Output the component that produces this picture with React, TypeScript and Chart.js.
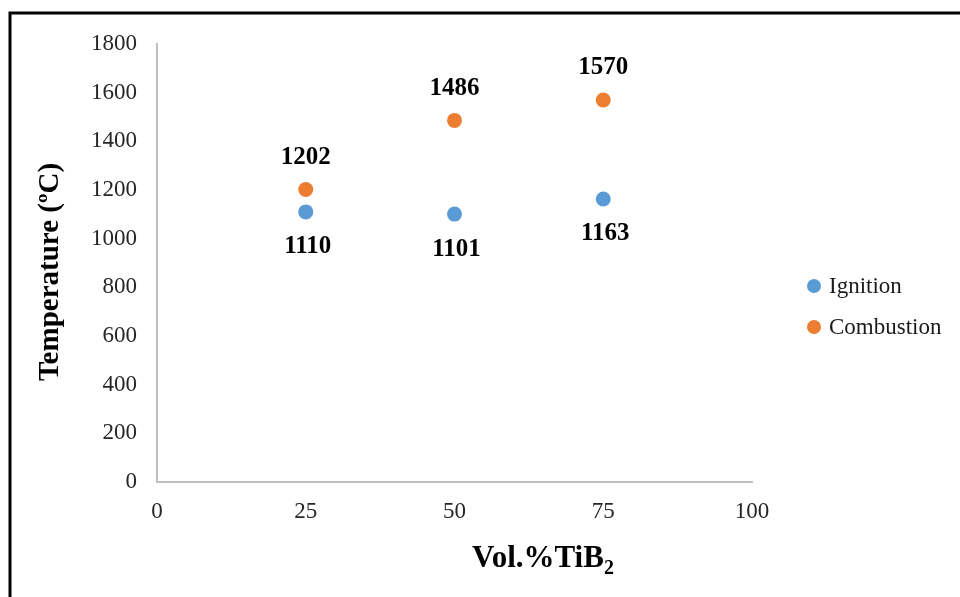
import { useEffect, useRef } from 'react';
import { Chart, registerables } from 'chart.js';

Chart.register(...registerables);

const xValues = [25, 50, 75];
const ignitionValues = [1110, 1101, 1163];
const combustionValues = [1202, 1486, 1570];
const seriesNames = ['Ignition', 'Combustion'];
const seriesColors = ['#5B9BD5', '#ED7D31'];
const xTickValues = [0, 25, 50, 75, 100];
const yTickStep = 200;
const yMax = 1800;
const xTitleMain = 'Vol.%TiB';
const xTitleSub = '2';
const yTitle = 'Temperature (ºC)';

const SERIF = "'Liberation Serif', 'Times New Roman', serif";

const framePlugin = {
  id: 'frame',
  beforeDraw(chart: any) {
    const ctx = chart.ctx;
    ctx.save();
    ctx.fillStyle = '#ffffff';
    ctx.fillRect(0, 0, chart.width, chart.height);
    ctx.strokeStyle = '#000000';
    ctx.lineWidth = 3;
    ctx.beginPath();
    ctx.moveTo(10, chart.height + 5);
    ctx.lineTo(10, 13);
    ctx.lineTo(chart.width + 5, 13);
    ctx.stroke();
    ctx.restore();
  },
};

const labelsPlugin = {
  id: 'pointLabels',
  afterDatasetsDraw(chart: any) {
    const ctx = chart.ctx;
    ctx.save();
    ctx.font = `bold 25px ${SERIF}`;
    ctx.fillStyle = '#000000';
    ctx.textAlign = 'center';
    ctx.textBaseline = 'middle';
    chart.data.datasets.forEach((ds: any, i: number) => {
      const meta = chart.getDatasetMeta(i);
      meta.data.forEach((pt: any, j: number) => {
        const v = ds.data[j].y;
        const dy = i === 0 ? 35 : -32;
        ctx.fillText(String(v), pt.x + (i === 0 ? 2 : 0), pt.y + dy);
      });
    });
    ctx.restore();
  },
};

const titlesPlugin = {
  id: 'axisTitles',
  afterDraw(chart: any) {
    const ctx = chart.ctx;
    ctx.save();
    ctx.fillStyle = '#000000';
    ctx.font = `bold 29px ${SERIF}`;
    ctx.textAlign = 'center';
    ctx.textBaseline = 'middle';
    ctx.translate(51, 272);
    ctx.rotate(-Math.PI / 2);
    ctx.fillText(yTitle, 0, 0);
    ctx.restore();

    ctx.save();
    ctx.fillStyle = '#000000';
    ctx.textBaseline = 'alphabetic';
    ctx.textAlign = 'left';
    ctx.font = `bold 31px ${SERIF}`;
    const w1 = ctx.measureText(xTitleMain).width;
    ctx.font = `bold 20px ${SERIF}`;
    const w2 = ctx.measureText(xTitleSub).width;
    const startX = 543 - (w1 + w2) / 2;
    const base = 567;
    ctx.font = `bold 31px ${SERIF}`;
    ctx.fillText(xTitleMain, startX, base);
    ctx.font = `bold 20px ${SERIF}`;
    ctx.fillText(xTitleSub, startX + w1, base + 7);
    ctx.restore();

    ctx.save();
    ctx.font = `23px ${SERIF}`;
    ctx.textAlign = 'left';
    ctx.textBaseline = 'middle';
    chart.data.datasets.forEach((ds: any, i: number) => {
      const y = 286 + i * 41;
      ctx.fillStyle = ds.backgroundColor;
      ctx.beginPath();
      ctx.arc(814, y, 7, 0, Math.PI * 2);
      ctx.fill();
      ctx.fillStyle = '#1a1a1a';
      ctx.fillText(ds.label, 829, y + 1);
    });
    ctx.restore();
  },
};

export default function App() {
  const canvasRef = useRef<HTMLCanvasElement | null>(null);

  useEffect(() => {
    document.body.style.margin = '0';
    const canvas = canvasRef.current;
    if (!canvas) return;
    const datasets = [ignitionValues, combustionValues].map((vals, i) => ({
      label: seriesNames[i],
      data: xValues.map((x, j) => ({ x, y: vals[j] })),
      backgroundColor: seriesColors[i],
      borderColor: seriesColors[i],
      borderWidth: 0,
      pointRadius: 7.5,
      pointHoverRadius: 7.5,
      showLine: false,
    }));
    const chart = new Chart(canvas, {
      type: 'scatter',
      data: { datasets },
      options: {
        responsive: false,
        animation: false,
        devicePixelRatio: 1,
        layout: { padding: { top: 44, right: 208, left: 0, bottom: 0 } },
        plugins: {
          legend: { display: false },
          tooltip: { enabled: false },
        },
        scales: {
          x: {
            type: 'linear',
            min: 0,
            max: 100,
            afterBuildTicks: (s: any) => {
              s.ticks = xTickValues.map((v) => ({ value: v }));
            },
            afterFit: (s: any) => {
              s.height = 115;
            },
            grid: { display: false, drawTicks: false },
            border: { display: true, color: '#BFBFBF', width: 2 },
            ticks: {
              padding: 16,
              color: '#262626',
              font: { family: SERIF, size: 23 },
              maxRotation: 0,
              callback: (v: any) => String(v),
            },
          },
          y: {
            type: 'linear',
            min: 0,
            max: yMax,
            afterFit: (s: any) => {
              s.width = 157;
            },
            grid: { display: false, drawTicks: false },
            border: { display: true, color: '#BFBFBF', width: 2 },
            ticks: {
              stepSize: yTickStep,
              padding: 20,
              color: '#262626',
              font: { family: SERIF, size: 23 },
              callback: (v: any) => String(v),
            },
          },
        },
      },
      plugins: [framePlugin, labelsPlugin, titlesPlugin],
    });
    return () => chart.destroy();
  }, []);

  return <canvas ref={canvasRef} width={960} height={597} style={{ display: 'block' }} />;
}
